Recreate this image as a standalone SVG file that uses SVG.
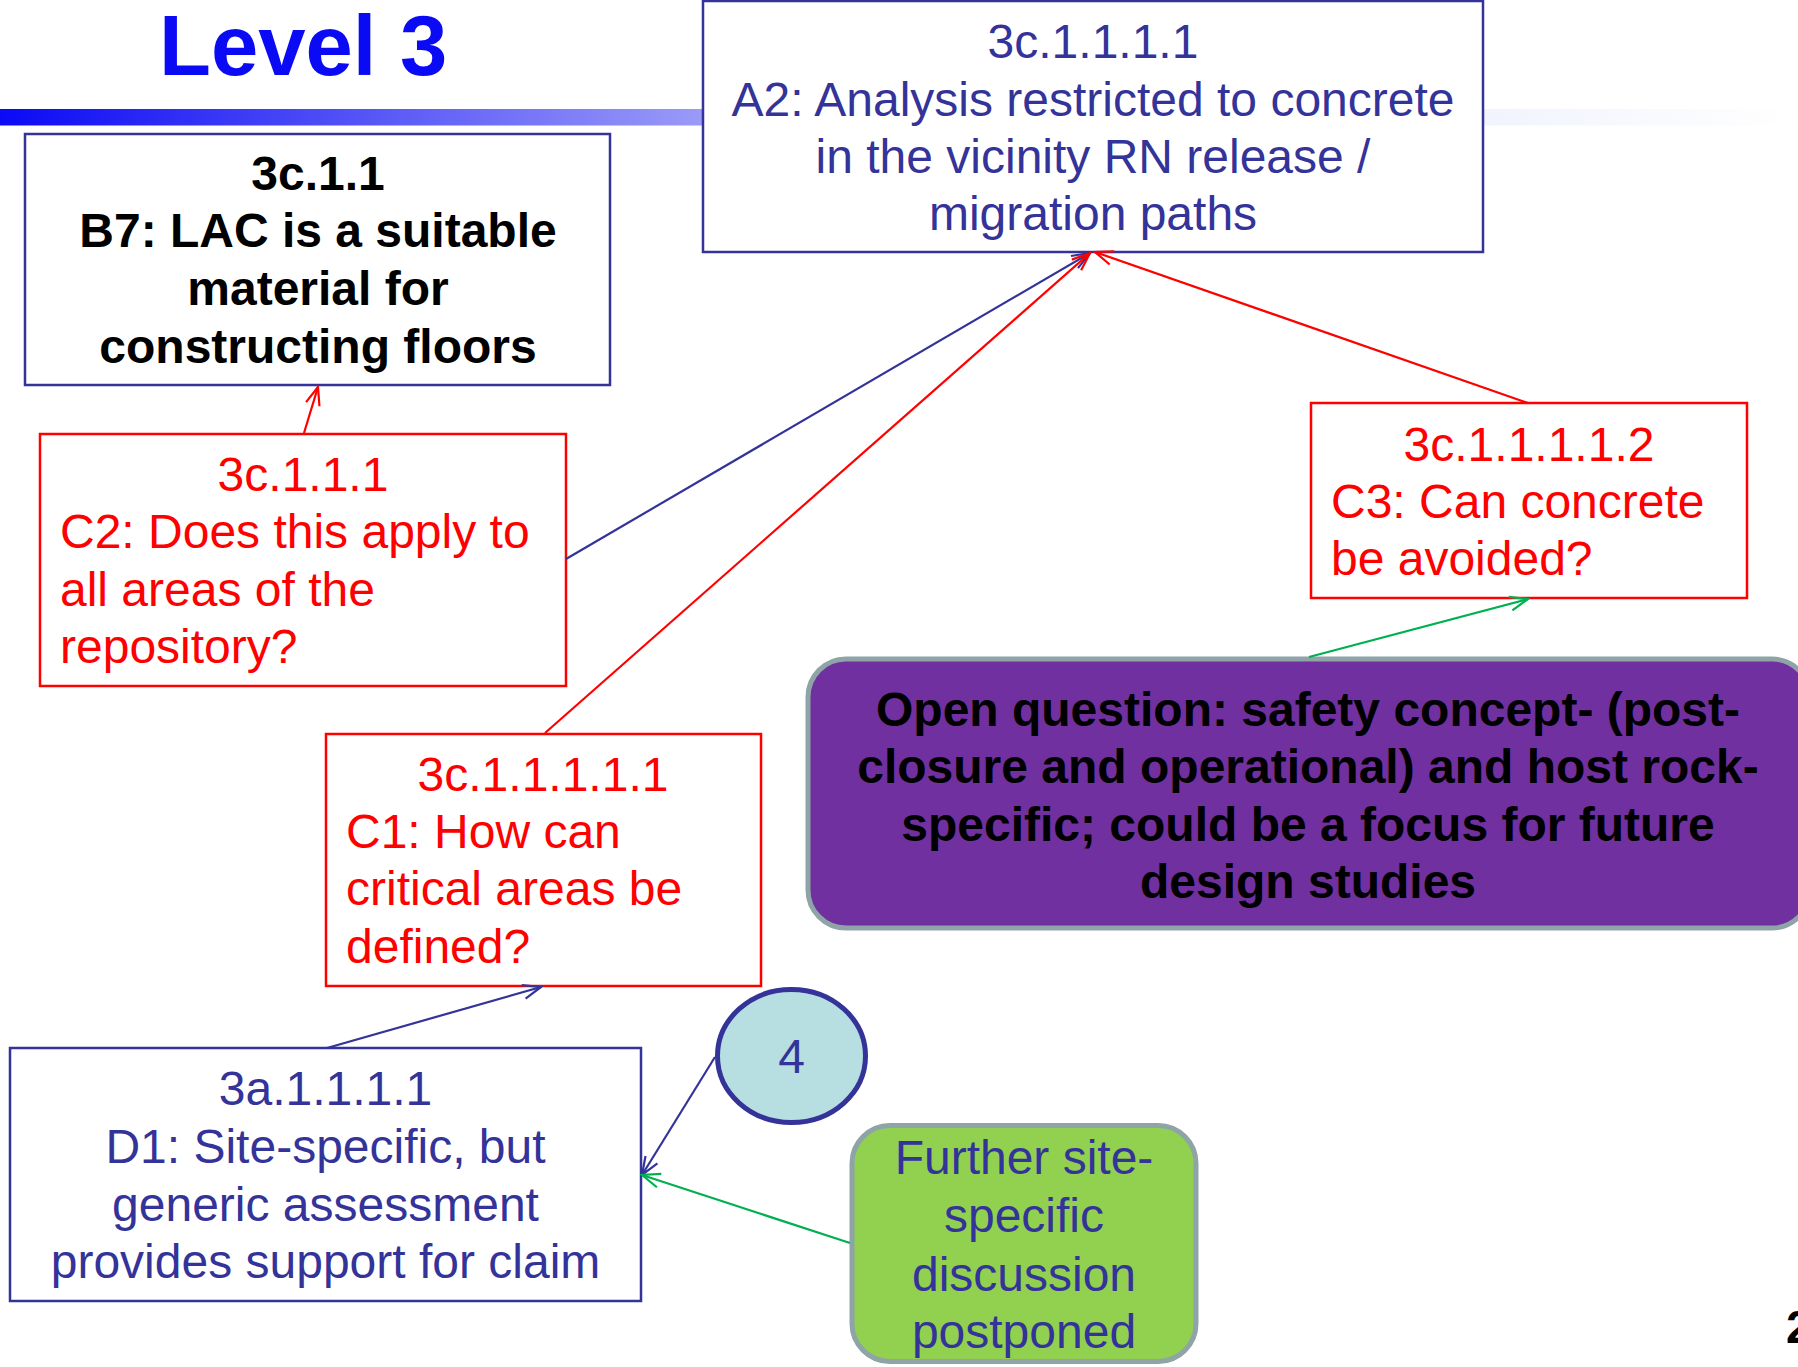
<svg xmlns="http://www.w3.org/2000/svg" width="1798" height="1367" viewBox="0 0 1798 1367">
<style>
.t{font-family:"Liberation Sans",Arial,sans-serif;font-size:48px}
.b{font-weight:bold}
.c{text-anchor:middle}
.navy{fill:#333399}
.red{fill:#FF0000}
.blk{fill:#000000}
.box{fill:#FFFFFF;stroke-width:2.5}
.bn{stroke:#333399}
.br{stroke:#FF0000}
.ln{fill:none;stroke-width:2.2}
</style>
<defs>
<linearGradient id="bar" x1="0" y1="0" x2="1798" y2="0" gradientUnits="userSpaceOnUse">
<stop offset="0" stop-color="#0A0AF5"/>
<stop offset="0.39" stop-color="#9A9AF8"/>
<stop offset="0.78" stop-color="#EEF1FD"/>
<stop offset="1" stop-color="#FFFFFF"/>
</linearGradient>
<marker id="ar" viewBox="-20 -10 22 20" refX="0" refY="0" markerWidth="22" markerHeight="20" markerUnits="userSpaceOnUse" orient="auto"><path d="M-18,-7 L0,0 L-18,7" fill="none" stroke="#FF0000" stroke-width="2.2"/></marker>
<marker id="an" viewBox="-20 -10 22 20" refX="0" refY="0" markerWidth="22" markerHeight="20" markerUnits="userSpaceOnUse" orient="auto"><path d="M-18,-7 L0,0 L-18,7" fill="none" stroke="#333399" stroke-width="2.2"/></marker>
<marker id="ag" viewBox="-20 -10 22 20" refX="0" refY="0" markerWidth="22" markerHeight="20" markerUnits="userSpaceOnUse" orient="auto"><path d="M-18,-7 L0,0 L-18,7" fill="none" stroke="#00B050" stroke-width="2.2"/></marker>
</defs>
<rect x="0" y="0" width="1798" height="1367" fill="#FFFFFF"/>
<g id="title">
<rect x="0" y="109" width="1798" height="16.5" fill="url(#bar)"/>
<text x="159" y="75" style="font-family:'Liberation Sans',Arial,sans-serif;font-size:85px;font-weight:bold" fill="#0A0AF5">Level 3</text>
</g>
<g id="node-B7">
<rect class="box bn" x="25" y="134" width="585" height="251"/>
<text class="t b c blk" x="318"><tspan x="318" y="190">3c.1.1</tspan><tspan x="318" y="247">B7: LAC is a suitable</tspan><tspan x="318" y="305">material for</tspan><tspan x="318" y="363">constructing floors</tspan></text>
</g>
<g id="node-A2">
<rect class="box bn" x="703" y="1" width="780" height="251"/>
<text class="t c navy" x="1093"><tspan x="1093" y="58">3c.1.1.1.1</tspan><tspan x="1093" y="116">A2: Analysis restricted to concrete</tspan><tspan x="1093" y="173">in the vicinity RN release /</tspan><tspan x="1093" y="230">migration paths</tspan></text>
</g>
<g id="node-C2">
<rect class="box br" x="40" y="434" width="526" height="252"/>
<text class="t c red" x="303" y="491">3c.1.1.1</text>
<text class="t red"><tspan x="60" y="548">C2: Does this apply to</tspan><tspan x="60" y="606">all areas of the</tspan><tspan x="60" y="663">repository?</tspan></text>
</g>
<g id="node-C3">
<rect class="box br" x="1311" y="403" width="436" height="195"/>
<text class="t c red" x="1529" y="461">3c.1.1.1.1.2</text>
<text class="t red"><tspan x="1331" y="518">C3: Can concrete</tspan><tspan x="1331" y="575">be avoided?</tspan></text>
</g>
<g id="node-open-question">
<rect x="808" y="659" width="1002" height="269" rx="38" ry="38" fill="#7030A0" stroke="#8EA4A7" stroke-width="5"/>
<text class="t b c blk"><tspan x="1308" y="726">Open question: safety concept- (post-</tspan><tspan x="1308" y="783">closure and operational) and host rock-</tspan><tspan x="1308" y="841">specific; could be a focus for future</tspan><tspan x="1308" y="898">design studies</tspan></text>
</g>
<g id="node-C1">
<rect class="box br" x="326" y="734" width="435" height="252"/>
<text class="t c red" x="543" y="791">3c.1.1.1.1.1</text>
<text class="t red"><tspan x="346" y="848">C1: How can</tspan><tspan x="346" y="905">critical areas be</tspan><tspan x="346" y="963">defined?</tspan></text>
</g>
<g id="node-D1">
<rect class="box bn" x="10" y="1048" width="631" height="253"/>
<text class="t c navy"><tspan x="325.5" y="1105">3a.1.1.1.1</tspan><tspan x="325.5" y="1163">D1: Site-specific, but</tspan><tspan x="325.5" y="1221">generic assessment</tspan><tspan x="325.5" y="1278">provides support for claim</tspan></text>
</g>
<g id="node-4">
<ellipse cx="791.5" cy="1056" rx="74" ry="66.5" fill="#B7DEE1" stroke="#333399" stroke-width="5"/>
<text class="t c navy" x="791.5" y="1073">4</text>
</g>
<g id="node-further">
<rect x="852" y="1125.5" width="344" height="236" rx="38" ry="38" fill="#92D050" stroke="#8EA4A7" stroke-width="5"/>
<text class="t c navy"><tspan x="1024" y="1174">Further site-</tspan><tspan x="1024" y="1232">specific</tspan><tspan x="1024" y="1291">discussion</tspan><tspan x="1024" y="1348">postponed</tspan></text>
</g>
<g id="connectors">
<line class="ln" stroke="#FF0000" x1="304" y1="433" x2="318" y2="387" marker-end="url(#ar)"/>
<line class="ln" stroke="#333399" x1="566" y1="559" x2="1090" y2="253" marker-end="url(#an)"/>
<line class="ln" stroke="#FF0000" x1="545" y1="733" x2="1090" y2="253" marker-end="url(#ar)"/>
<line class="ln" stroke="#FF0000" x1="1528" y1="403" x2="1095" y2="252" marker-end="url(#ar)"/>
<line class="ln" stroke="#00B050" x1="1309" y1="657" x2="1528" y2="599" marker-end="url(#ag)"/>
<line class="ln" stroke="#333399" x1="327" y1="1048" x2="541" y2="987" marker-end="url(#an)"/>
<line class="ln" stroke="#333399" x1="715" y1="1057" x2="642" y2="1175" marker-end="url(#an)"/>
<line class="ln" stroke="#00B050" x1="850" y1="1243" x2="642" y2="1175" marker-end="url(#ag)"/>
</g>
<text x="1786" y="1343" style="font-family:'Liberation Sans',Arial,sans-serif;font-size:46px;font-weight:bold" fill="#000000">2</text>
</svg>
